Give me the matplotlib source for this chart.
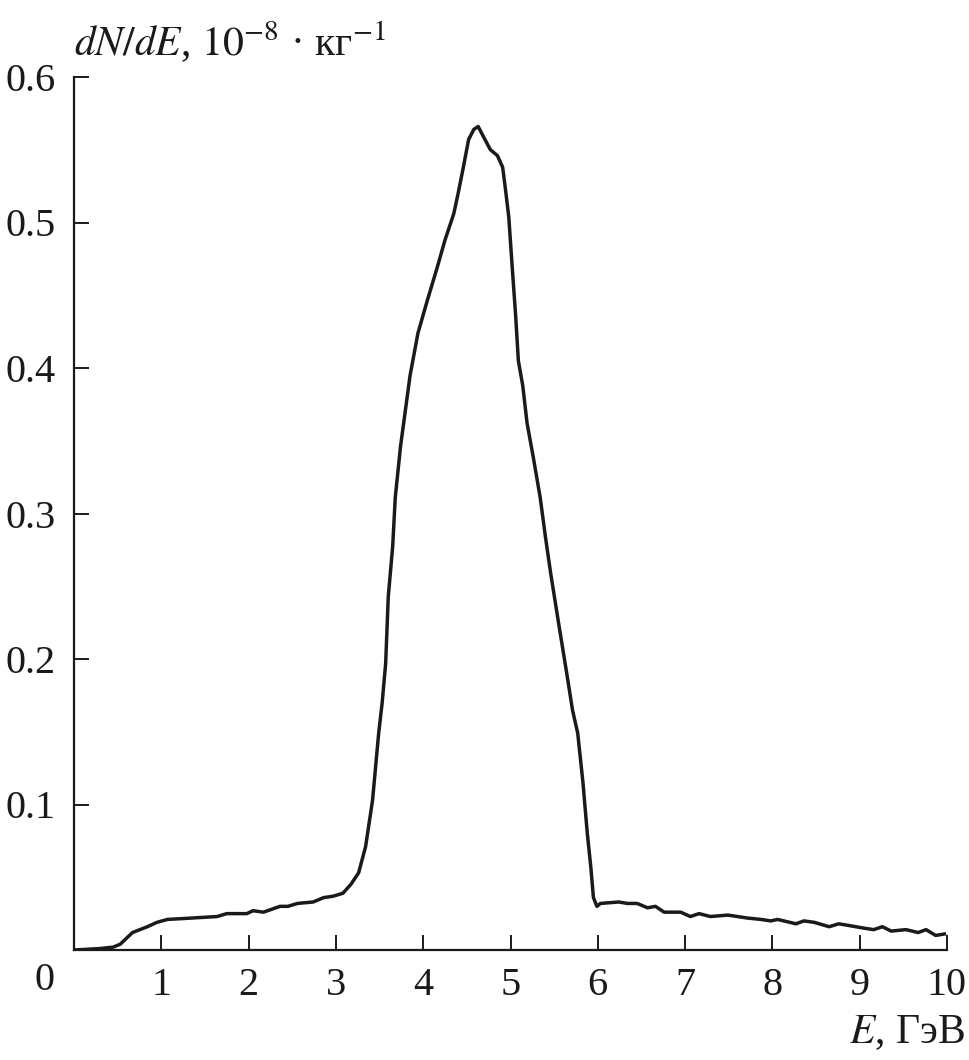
import numpy as np
import matplotlib
matplotlib.use("Agg")
import matplotlib.pyplot as plt

plt.rcParams['font.family'] = ['Liberation Serif', 'DejaVu Serif']
plt.rcParams['mathtext.fontset'] = 'stix'

# energy, GeV
E = [0, 0.30, 0.45, 0.53, 0.67, 0.84, 0.95, 1.07, 1.36, 1.64, 1.75, 1.98, 2.05,
     2.17, 2.36, 2.45, 2.56, 2.74, 2.86, 2.97, 3.08, 3.17, 3.26, 3.34, 3.42,
     3.49, 3.53, 3.57, 3.60, 3.65, 3.68, 3.74, 3.85, 3.94, 4.05, 4.16, 4.25,
     4.35, 4.40, 4.46, 4.52, 4.58, 4.63, 4.69, 4.77, 4.85, 4.91, 4.94, 4.98,
     5.02, 5.06, 5.09, 5.14, 5.19, 5.26, 5.34, 5.40, 5.46, 5.55, 5.65, 5.71,
     5.77, 5.83, 5.88, 5.92, 5.95, 5.99, 6.03, 6.24, 6.34, 6.45, 6.57, 6.66,
     6.76, 6.95, 7.06, 7.16, 7.29, 7.49, 7.71, 7.87, 7.98, 8.06, 8.27, 8.36,
     8.48, 8.65, 8.76, 8.86, 9.05, 9.16, 9.26, 9.36, 9.53, 9.67, 9.76, 9.87,
     9.97]
# dN/dE, 1e-8 per kg
dNdE = [0.000, 0.001, 0.002, 0.004, 0.012, 0.016, 0.019, 0.021, 0.022, 0.023,
        0.025, 0.025, 0.027, 0.026, 0.030, 0.030, 0.032, 0.033, 0.036, 0.037,
        0.039, 0.045, 0.053, 0.071, 0.103, 0.149, 0.170, 0.197, 0.243, 0.277,
        0.311, 0.346, 0.395, 0.424, 0.447, 0.469, 0.488, 0.506, 0.520, 0.538,
        0.557, 0.564, 0.566, 0.559, 0.550, 0.546, 0.538, 0.524, 0.504, 0.469,
        0.435, 0.405, 0.388, 0.362, 0.339, 0.311, 0.284, 0.259, 0.225, 0.188,
        0.165, 0.149, 0.115, 0.080, 0.057, 0.036, 0.030, 0.032, 0.033, 0.032,
        0.032, 0.029, 0.030, 0.026, 0.026, 0.023, 0.025, 0.023, 0.024, 0.022,
        0.021, 0.020, 0.021, 0.018, 0.020, 0.019, 0.016, 0.018, 0.017, 0.015,
        0.014, 0.016, 0.013, 0.014, 0.012, 0.014, 0.010, 0.011]

x_ticks = [1, 2, 3, 4, 5, 6, 7, 8, 9, 10]
y_ticks = [0.1, 0.2, 0.3, 0.4, 0.5, 0.6]

fig = plt.figure(figsize=(9.69, 10.60), dpi=100)
ax = fig.add_axes([74 / 969, 110 / 1060, 873 / 969, 873 / 1060])

ax.plot(E, dNdE, color='#1a1a1a', lw=2.5, solid_joinstyle='round')

ax.set_xlim(0, 10)
ax.set_ylim(0, 0.6)
ax.spines['top'].set_visible(False)
ax.spines['right'].set_visible(False)
for s in ['left', 'bottom']:
    ax.spines[s].set_linewidth(1.6)
    ax.spines[s].set_color('#1a1a1a')

ax.set_xticks(x_ticks)
ax.set_xticklabels([str(t) for t in x_ticks])
ax.set_yticks(y_ticks)
ax.set_yticklabels(['%.1f' % t for t in y_ticks])
ax.tick_params(direction='in', length=11, width=1.4, labelsize=29,
               color='#1a1a1a', labelcolor='#1a1a1a')
ax.tick_params(axis='x', pad=12)
ax.tick_params(axis='y', pad=13)

fig.text(45 / 969, 1 - 981 / 1060, '0', fontsize=29, ha='center',
         va='center', color='#1a1a1a')
fig.text(74 / 969, 1 - 42 / 1060, r'$dN/dE$, $10^{-8}$ · кг$^{-1}$',
         fontsize=30, ha='left', va='center', color='#1a1a1a')
fig.text(965 / 969, 1 - 1033 / 1060, r'$E$, ГэВ', fontsize=30, ha='right',
         va='center', color='#1a1a1a')

fig.savefig('out.png', dpi=100)
